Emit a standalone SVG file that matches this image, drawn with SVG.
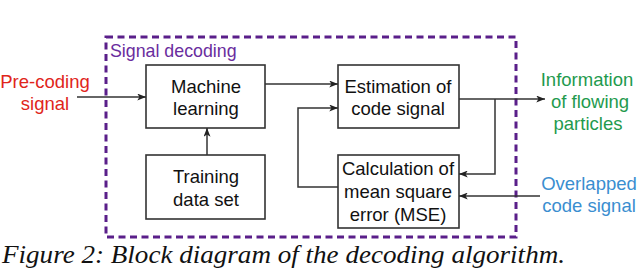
<svg xmlns="http://www.w3.org/2000/svg" width="640" height="272" viewBox="0 0 640 272">
<defs>
<marker id="ah" viewBox="0 0 10 8" refX="10" refY="4" markerWidth="9" markerHeight="7" markerUnits="userSpaceOnUse" orient="auto">
<path d="M0,0 L10,4 L0,8 L2.5,4 Z" fill="#222"/>
</marker>
<style>
.box{fill:#fff;stroke:#333;stroke-width:1.6}
.lbl{font-family:"Liberation Sans",Arial,sans-serif;font-size:18.5px;fill:#111;text-anchor:middle}
.ext{font-family:"Liberation Sans",Arial,sans-serif;font-size:18.5px;text-anchor:middle}
.conn{fill:none;stroke:#333;stroke-width:1.5}
</style>
</defs>
<rect width="640" height="272" fill="#fff"/>
<g id="signal-decoding">
<rect x="106" y="37" width="410" height="200" fill="none" stroke="#5a1f8a" stroke-width="3" stroke-dasharray="7,4.5"/>
<text x="110" y="57" style="font-family:'Liberation Sans',Arial,sans-serif;font-size:17.8px;fill:#6a2d9e">Signal decoding</text>
</g>
<g id="machine-learning">
<rect class="box" x="146" y="65" width="119" height="63"/>
<text class="lbl" x="206" y="93">Machine</text>
<text class="lbl" x="206" y="115">learning</text>
</g>
<g id="training-data">
<rect class="box" x="146" y="155" width="119" height="64"/>
<text class="lbl" x="206" y="183">Training</text>
<text class="lbl" x="206" y="206">data set</text>
</g>
<g id="estimation">
<rect class="box" x="338" y="65" width="121" height="63"/>
<text class="lbl" x="398" y="93">Estimation of</text>
<text class="lbl" x="398" y="115">code signal</text>
</g>
<g id="mse">
<rect class="box" x="338" y="155" width="121" height="73"/>
<text class="lbl" x="398" y="175">Calculation of</text>
<text class="lbl" x="398" y="198">mean square</text>
<text class="lbl" x="398" y="221">error (MSE)</text>
</g>
<g id="pre-coding">
<text class="ext" x="45" y="88" fill="#e0251b">Pre-coding</text>
<text class="ext" x="45" y="110" fill="#e0251b">signal</text>
</g>
<g id="information">
<text class="ext" x="587" y="86" fill="#1f9a4e">Information</text>
<text class="ext" x="590" y="108" fill="#1f9a4e">of flowing</text>
<text class="ext" x="588" y="130" fill="#1f9a4e">particles</text>
</g>
<g id="overlapped">
<text class="ext" x="589" y="190" fill="#3a8ed0">Overlapped</text>
<text class="ext" x="589" y="212" fill="#3a8ed0">code signal</text>
</g>
<g id="connectors">
<path class="conn" d="M77,97 H146" marker-end="url(#ah)"/>
<path class="conn" d="M207,155 V128" marker-end="url(#ah)"/>
<path class="conn" d="M265,84 H338" marker-end="url(#ah)"/>
<path class="conn" d="M338,187 H298 V108 H338" marker-end="url(#ah)"/>
<path class="conn" d="M459,99 H545" marker-end="url(#ah)"/>
<path class="conn" d="M495,99 V174 H459" marker-end="url(#ah)"/>
<path class="conn" d="M540,196 H459" marker-end="url(#ah)"/>
</g>
<text x="2" y="263" textLength="563" lengthAdjust="spacingAndGlyphs" style="font-family:'Liberation Serif','Times New Roman',serif;font-style:italic;font-size:26px;fill:#111">Figure 2: Block diagram of the decoding algorithm.</text>
</svg>
